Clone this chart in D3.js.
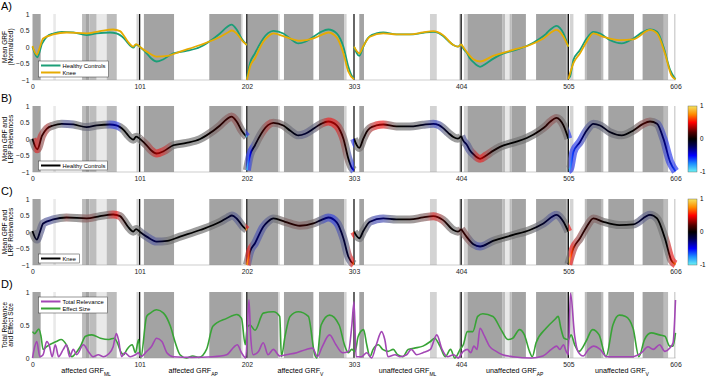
<!DOCTYPE html>
<html>
<head>
<meta charset="utf-8">
<script src="https://cdn.jsdelivr.net/npm/d3@7"></script>
<style>
body { margin: 0; background: #fff; }
svg { display: block; font-family: "Liberation Sans", Arial, sans-serif; }
</style>
</head>
<body>
<svg id="chart" width="706" height="377"></svg>
<script>
// tick values and section names
var xTicks = [0, 101, 202, 303, 404, 505, 606];
var meanTicks = [-1, -0.5, 0, 0.5, 1];
var relTicks = [0, 0.5, 1];
var sectionNames = ["affected GRF", "affected GRF", "affected GRF", "unaffected GRF", "unaffected GRF", "unaffected GRF"];
var sectionSubs = ["ML", "AP", "V", "ML", "AP", "V"];

// significance shading [start, end, shade level]
var shading = [
    [0, 7.7, 0], [19.6, 22, 3], [46.7, 49.8, 1], [49.8, 53.6, 0], [53.6, 60.5, 1], [60.5, 69.9, 3], [69.9, 79.4, 1],
    [98, 100.7, 2], [105, 133.4, 0], [166.6, 196.5, 0], [196.5, 198, 2],
    [202.5, 231.7, 0], [231.7, 233, 2], [237, 264.7, 0], [270, 293.6, 0], [293.6, 296, 2],
    [308, 312.4, 0], [374.6, 381, 2], [402, 404, 2], [406.6, 410, 2],
    [410, 443, 0], [443, 445.6, 1], [445.6, 449.6, 3], [449.6, 451.6, 1], [451.6, 465, 0],
    [474.6, 502.8, 0], [502.8, 505, 1], [506.6, 509.8, 2],
    [520.5, 522, 1], [522, 536.5, 0], [536.5, 538, 1], [542.7, 566.9, 0],
    [575, 595, 0], [595, 599, 1], [604.6, 606, 2]
];
var shadeColors = ["#a3a3a3", "#bcbcbc", "#d3d3d3", "#e9e9e9"];

// mean GRF of healthy controls, one array per section
var hcMean = [
    [[0, 0.01], [4.5, -0.31], [9, 0.1], [13.4, 0.31], [19.6, 0.41], [27.5, 0.46], [38.5, 0.44], [51, 0.36], [60.5, 0.41], [73, 0.44], [79, 0.41], [82.5, 0.36], [86, 0.27], [88.8, 0.16], [95, -0.02], [97.6, 0.07], [101, 0.01]],
    [[101, 0.01], [107.6, -0.19], [112, -0.35], [117, -0.44], [123.5, -0.37], [132.7, -0.19], [145, -0.12], [158, 0.0], [164, 0.11], [176.7, 0.41], [183, 0.6], [187.5, 0.68], [192.4, 0.53], [197, 0.26], [202, 0.06]],
    [[202, -0.95], [203.5, -0.7], [205, -0.49], [209.7, -0.19], [213, 0.02], [217.5, 0.26], [222, 0.42], [227, 0.49], [236.4, 0.41], [243, 0.25], [250.5, 0.11], [257, 0.16], [264.7, 0.31], [272, 0.46], [278.8, 0.53], [286.7, 0.41], [290, 0.25], [293, 0.01], [297.7, -0.6], [301, -0.88], [303, -0.95]],
    [[303, 0.01], [305.5, -0.18], [308, -0.27], [311.8, 0.01], [315, 0.22], [318, 0.33], [324, 0.41], [330.6, 0.44], [343, 0.38], [355.7, 0.38], [368, 0.43], [377.7, 0.46], [383, 0.42], [387, 0.33], [392, 0.18], [396.6, 0.06], [401, 0.01], [404, 0.09]],
    [[404, 0.09], [406, -0.05], [409, -0.16], [412, -0.33], [415.5, -0.46], [421.8, -0.6], [428, -0.49], [434, -0.36], [440.6, -0.24], [453, -0.11], [465.8, 0.03], [478.3, 0.26], [484, 0.4], [487.7, 0.52], [494, 0.64], [497, 0.58], [500.4, 0.41], [503, 0.2], [505, 0.01]],
    [[505, -0.95], [506.6, -0.9], [509.8, -0.39], [516, -0.09], [522.3, 0.26], [528.6, 0.46], [535, 0.41], [544, 0.21], [555.3, 0.11], [566.3, 0.26], [575, 0.45], [582, 0.53], [588.6, 0.46], [594.6, 0.01], [601, -0.7], [606, -0.98]]
];

// mean GRF of knee patients
var kneeMean = [
    [[0, 0.03], [4, -0.23], [7, 0.0], [10, 0.26], [19.6, 0.38], [32, 0.44], [51, 0.41], [63.6, 0.48], [76, 0.53], [82.5, 0.48], [86, 0.35], [90, 0.16], [95, 0.01], [97.6, 0.09], [101, 0.01]],
    [[101, 0.01], [107.6, -0.14], [117, -0.29], [127, -0.27], [139, -0.14], [158, 0.06], [177, 0.31], [184, 0.44], [188, 0.5], [192.4, 0.41], [198.5, 0.16], [202, 0.06]],
    [[202, -1], [203.5, -0.8], [205, -0.6], [209.7, -0.34], [217.5, 0.16], [222, 0.32], [227, 0.41], [238, 0.31], [252, 0.19], [264.7, 0.26], [272, 0.36], [278.8, 0.44], [286.7, 0.29], [293, -0.19], [297.7, -0.75], [303, -0.98]],
    [[303, 0.01], [305.5, -0.12], [308, -0.19], [311.8, 0.03], [318, 0.31], [330.6, 0.41], [343, 0.38], [355.7, 0.38], [368, 0.44], [377.7, 0.48], [387, 0.36], [396.6, 0.06], [401, 0.01], [404, 0.09]],
    [[404, 0.09], [409, -0.14], [415.5, -0.37], [421.8, -0.44], [434, -0.27], [453, -0.09], [468.8, 0.06], [481.5, 0.26], [494, 0.52], [497, 0.46], [500.4, 0.31], [505, 0.01]],
    [[505, -0.98], [509.8, -0.49], [516, -0.19], [522.3, 0.16], [528.6, 0.41], [538, 0.31], [553, 0.21], [566.3, 0.23], [582, 0.52], [588.6, 0.41], [596, -0.19], [602, -0.85], [606, -0.98]]
];

// LRP relevance along the curve [time, relevance]
var relHC = [
    [0, 0], [3, 0.3], [6, 0.25], [9, 0.12], [13, 0.22], [18, 0.05], [25, 0], [30, -0.15], [36, -0.15], [42, 0], [52, -0.08], [60, -0.05],
    [68, 0], [74, -0.28], [80, -0.3], [84, 0], [101, 0], [110, 0.15], [118, 0.32], [124, 0.25], [132, 0], [160, 0], [180, 0.1], [190, 0.15],
    [200, 0], [202, -0.9], [205, -0.5], [208, -0.1], [215, 0.05], [222, 0.22], [228, 0.1], [240, 0], [256, -0.12], [266, -0.08], [272, 0.1],
    [278, 0.35], [286, 0.3], [292, 0.15], [298, 0], [302, -0.4], [303, -0.5], [303.5, 0], [315, 0.05], [324, 0.3], [330, 0.32], [336, 0.12],
    [345, 0], [365, -0.05], [372, -0.12], [380, -0.25], [388, -0.1], [396, 0], [404, 0], [408, -0.18], [414, -0.12], [418, 0.25], [423, 0.35],
    [428, 0.2], [434, 0.05], [445, 0], [470, 0], [480, 0.05], [490, 0.15], [498, 0.05], [505, 0], [505.5, -0.9], [509, -0.6], [515, -0.3],
    [522, -0.15], [530, -0.1], [545, -0.05], [565, 0], [572, 0.1], [578, 0.15], [585, 0.05], [590, -0.15], [598, -0.3], [606, -0.6]
];
var relKnee = [
    [0, 0], [3, -0.08], [8, -0.12], [15, -0.18], [22, -0.12], [28, 0], [32, 0.12], [36, 0.05], [42, 0], [50, 0.12], [56, 0.12], [62, 0],
    [70, 0.05], [75, 0.25], [79, 0.32], [83, 0.1], [90, 0], [101, 0], [106, -0.12], [114, -0.18], [120, -0.12], [128, 0], [175, 0],
    [185, -0.1], [192, -0.15], [200, 0], [202, 0.85], [204, 0.6], [206, -0.15], [212, -0.22], [220, -0.15], [230, 0], [240, 0.08],
    [255, 0.1], [265, 0.05], [270, -0.1], [276, -0.25], [284, -0.3], [290, -0.15], [298, -0.1], [301, 0.3], [303, 0.7], [303.5, 0],
    [315, -0.05], [322, -0.22], [330, -0.22], [338, -0.1], [345, 0], [360, 0.05], [372, 0.12], [378, 0.28], [384, 0.2], [390, 0.05],
    [398, 0], [404, 0.1], [410, 0.12], [415, -0.1], [420, -0.22], [428, -0.12], [436, 0], [470, 0], [482, -0.1], [490, -0.18], [497, -0.12],
    [503, 0], [505, 0], [505.5, 1], [508, 0.6], [512, 0.2], [518, 0.1], [530, 0.1], [540, 0], [565, 0], [572, -0.12], [580, -0.12],
    [588, 0], [598, 0], [602, 0.3], [606, 0.7]
];

// total relevance and effect size
var totalRel = [
    [0, 0], [1.5, 0.13], [4, 0.25], [7, 0.02], [10, 0.05], [13.4, 0.25], [16, 0.18], [18.5, 0.02], [21.5, 0.2], [24.6, 0.02], [29, 0.13],
    [32, 0.2], [35, 0.02], [38.5, 0.13], [41.6, 0.05], [48, 0.2], [52.6, 0.1], [57, 0.02], [62, 0.05], [67, 0.02], [71.6, 0.06], [76, 0.17],
    [79, 0.37], [81, 0.28], [84, 0.02], [87, 0.08], [92, 0.02], [97, 0.05], [100, 0.08], [102, 0.02], [107.6, 0.1], [112, 0.17], [117, 0.3],
    [122, 0.25], [126.6, 0.08], [132.7, 0.02], [150, 0.01], [170, 0.02], [183, 0.05], [190, 0.17], [193, 0.2], [197, 0.08], [201, 0],
    [204, 0.88], [205.6, 0.33], [208, 0.05], [213, 0.1], [217.5, 0.23], [222, 0.05], [227, 0.13], [233, 0.03], [239, 0.05], [249, 0.08],
    [258, 0.13], [264, 0.15], [268.5, 0.02], [273, 0.17], [280, 0.35], [286, 0.2], [292, 0.08], [297.7, 0.1], [301, 0.5], [303, 0.85],
    [305, 0.02], [310, 0.02], [315, 0.08], [319.6, 0], [324, 0.2], [329, 0.4], [332, 0.28], [335, 0.02], [341.7, 0.05], [346, 0.02],
    [352.6, 0.05], [357, 0.13], [362, 0.05], [368, 0.08], [375, 0.13], [381, 0.35], [386, 0.13], [391, 0.02], [397, 0.05], [401, 0],
    [406, 0.1], [409.8, 0.13], [413, 0.08], [416, 0.18], [419, 0.13], [421.7, 0.45], [426, 0.33], [430.6, 0.18], [437, 0.1], [443, 0.05],
    [453, 0.02], [470, 0], [481, 0.03], [489, 0.13], [494, 0.18], [497, 0.13], [500.4, 0.2], [503, 0.1], [505, 0.05], [507, 0.98],
    [511, 0.33], [514, 0.1], [519, 0.03], [524, 0.13], [528.6, 0.18], [535, 0.13], [541, 0.02], [555, 0.02], [566, 0.02], [574, 0.08],
    [580, 0.17], [585, 0.13], [591, 0.2], [596, 0.1], [600.6, 0.15], [603.7, 0.23], [606, 0.88]
];
var effectSize = [
    [0, 0.4], [2, 0.37], [6, 0.44], [8, 0.33], [10, 0.13], [13, 0.17], [22.5, 0.25], [27, 0.28], [32, 0.2], [37, 0.02], [42, 0.1], [45, 0.17],
    [50, 0.33], [56, 0.35], [64, 0.3], [72, 0.28], [77, 0.3], [80, 0.23], [83, 0.1], [86, 0.05], [89, 0.13], [94, 0.2], [97, 0.08],
    [100, 0.28], [102, 0], [107.6, 0.63], [111, 0.68], [117, 0.73], [123.5, 0.68], [130, 0.48], [134.6, 0.23], [139, 0.05], [145, 0],
    [151, 0.03], [157, 0.01], [164, 0.13], [170, 0.48], [183, 0.6], [192.5, 0.66], [197, 0.6], [200.5, 0.2], [202.5, 0.47], [205, 0.5],
    [209.7, 0.42], [217.5, 0.68], [227, 0.7], [233, 0.63], [234.6, 0.02], [238, 0.33], [242.7, 0.63], [250.5, 0.7], [260, 0.63], [266, 0.05],
    [268, 0], [272, 0.5], [280, 0.65], [289, 0.5], [294, 0.2], [297.7, 0.08], [300.9, 0.13], [304, 0.1], [307, 0.33], [312, 0.43], [315, 0.2],
    [318, 0.02], [321, 0.13], [326, 0.2], [330, 0.13], [335, 0.1], [340, 0.13], [344, 0.05], [349, 0.02], [354, 0.13], [360, 0.15],
    [368, 0.18], [375, 0.25], [379, 0.3], [384, 0.18], [389, 0.02], [394, 0.13], [398, 0], [403, 0.13], [406, 0.2], [409.8, 0.4],
    [415, 0.4], [419.6, 0.63], [424.4, 0.67], [434, 0.63], [441.6, 0.43], [448, 0.28], [452.6, 0.3], [459, 0.43], [463.6, 0.35], [468.4, 0.1],
    [471, 0.02], [474.6, 0.23], [484, 0.45], [492, 0.58], [495.5, 0.63], [498, 0.45], [501, 0.3], [505, 0.28], [507.6, 0.35], [511, 0.2],
    [515, 0.1], [521.6, 0.25], [527.8, 0.43], [534, 0.35], [540.5, 0.02], [547, 0.5], [553, 0.65], [559, 0.63], [566, 0.45], [571.5, 0.02],
    [576.8, 0.28], [583, 0.38], [591, 0.35], [596, 0.33], [600.6, 0.18], [603.7, 0.18], [606, 0.38]
];

var hcColor = "#1b9e77", kneeColor = "#e6ab02", relColor = "#a347b5", esColor = "#38a336";

var svg = d3.select("#chart");
var defs = svg.append("defs");
var font = 6.8;
var panelH = 66;

var x = d3.scaleLinear().domain([0, 606]).range([32.5, 675.5]);

// relevance colormap (cyan - blue - black - red - yellow)
var cmap = d3.scaleLinear()
    .domain([-1, -0.75, -0.5, -0.2, 0, 0.2, 0.5, 0.75, 1])
    .range(["#6cf3f3", "#1e90ff", "#0000ff", "#000050", "#000000", "#500000", "#ff0000", "#ff8c00", "#f4e35f"]);

// band is grey, tinted red or blue only where relevance is high
function bandColor(r) {
    var t = Math.min(1, Math.pow(Math.abs(r) / 0.32, 1.6));
    return d3.interpolateRgb("#747474", r >= 0 ? "#f02020" : "#3040f0")(t);
}

function addGradient(id, keys, colorFn) {
    var grad = defs.append("linearGradient").attr("id", id)
        .attr("gradientUnits", "userSpaceOnUse")
        .attr("x1", x(0)).attr("x2", x(606)).attr("y1", 0).attr("y2", 0);
    grad.selectAll("stop").data(keys).enter().append("stop")
        .attr("offset", function (d) { return d[0] / 606; })
        .attr("stop-color", function (d) { return colorFn(d[1]); });
}
addGradient("lineHC", relHC, cmap);
addGradient("bandHC", relHC, bandColor);
addGradient("lineKnee", relKnee, cmap);
addGradient("bandKnee", relKnee, bandColor);

// colorbar gradient
var cbGrad = defs.append("linearGradient").attr("id", "cbar")
    .attr("x1", 0).attr("x2", 0).attr("y1", 1).attr("y2", 0);
cbGrad.selectAll("stop").data(cmap.domain()).enter().append("stop")
    .attr("offset", function (d) { return (d + 1) / 2; })
    .attr("stop-color", function (d) { return cmap(d); });

defs.append("filter").attr("id", "soft").append("feGaussianBlur").attr("stdDeviation", 0.7);

// draws shading, dividers and axes of one panel
function drawFrame(top, y, ticks, letter) {
    var g = svg.append("g");
    g.selectAll("rect.shade").data(shading).enter().append("rect")
        .attr("class", "shade")
        .attr("x", function (d) { return x(d[0]); })
        .attr("width", function (d) { return x(d[1]) - x(d[0]); })
        .attr("y", top).attr("height", panelH)
        .attr("fill", function (d) { return shadeColors[d[2]]; });

    g.selectAll("line.div").data(xTicks.slice(1, 6)).enter().append("line")
        .attr("class", "div")
        .attr("x1", function (d) { return x(d); }).attr("x2", function (d) { return x(d); })
        .attr("y1", top).attr("y2", top + panelH)
        .attr("stroke", "#000").attr("stroke-width", 1.2);

    g.append("line").attr("x1", x(0)).attr("x2", x(606))
        .attr("y1", top + panelH).attr("y2", top + panelH)
        .attr("stroke", "#999").attr("stroke-width", 0.5);

    var yAxis = g.append("g").attr("transform", "translate(" + x(0) + ",0)")
        .call(d3.axisLeft(y).tickValues(ticks).tickSize(0).tickPadding(3).tickFormat(d3.format("")));
    var xAxis = g.append("g").attr("transform", "translate(0," + (top + panelH) + ")")
        .call(d3.axisBottom(x).tickValues(xTicks).tickSize(0).tickPadding(4));
    [yAxis, xAxis].forEach(function (a) {
        a.select(".domain").remove();
        a.selectAll("text").attr("font-size", font).attr("fill", "#222")
            .attr("font-family", "Liberation Sans, Arial, sans-serif");
    });

    g.append("text").attr("x", 1).attr("y", top - 4).attr("font-size", 11).text(letter + ")");
    return g;
}

function yLabel(lines, top) {
    var t = svg.append("text").attr("font-size", 6.5).attr("text-anchor", "middle")
        .attr("transform", "translate(6.5," + (top + panelH / 2) + ") rotate(-90)");
    lines.forEach(function (l, i) {
        t.append("tspan").attr("x", 0).attr("dy", i === 0 ? 0 : 6.8).text(l);
    });
}

function legend(top, w, items) {
    var g = svg.append("g").attr("transform", "translate(38.5," + top + ")");
    var h = items.length * 7 + 2;
    g.append("rect").attr("width", w).attr("height", h)
        .attr("fill", "#fff").attr("stroke", "#333").attr("stroke-width", 0.5);
    items.forEach(function (it, i) {
        var cy = 4.5 + i * 7;
        g.append("line").attr("x1", 2.5).attr("x2", 22).attr("y1", cy).attr("y2", cy)
            .attr("stroke", it[1]).attr("stroke-width", 2);
        g.append("text").attr("x", 24).attr("y", cy + 2).attr("font-size", 5.8).text(it[0]);
    });
}

// A) mean curves
var topA = 14;
var yA = d3.scaleLinear().domain([-1, 1]).range([topA + panelH, topA]);
drawFrame(topA, yA, meanTicks, "A");
yLabel(["Mean GRF", "(Normalized)"], topA);
var lineA = d3.line().x(function (d) { return x(d[0]); }).y(function (d) { return yA(d[1]); }).curve(d3.curveMonotoneX);
[[hcMean, hcColor], [kneeMean, kneeColor]].forEach(function (s) {
    svg.append("g").selectAll("path").data(s[0]).enter().append("path")
        .attr("d", lineA).attr("fill", "none").attr("stroke", s[1]).attr("stroke-width", 1.8);
});
legend(61, 70, [["Healthy Controls", hcColor], ["Knee", kneeColor]]);

// B) and C) mean curves with relevance bands
function relPanel(top, data, name, letter, lw) {
    var y = d3.scaleLinear().domain([-1, 1]).range([top + panelH, top]);
    drawFrame(top, y, meanTicks, letter);
    yLabel(["Mean GRF and", "LRP Relevances"], top);
    var line = d3.line().x(function (d) { return x(d[0]); }).y(function (d) { return y(d[1]); }).curve(d3.curveMonotoneX);
    svg.append("g").attr("filter", "url(#soft)").attr("opacity", 0.7)
        .selectAll("path").data(data).enter().append("path")
        .attr("d", line).attr("fill", "none").attr("stroke", "url(#band" + name + ")")
        .attr("stroke-width", 8).attr("stroke-linecap", "butt");
    svg.append("g").selectAll("path").data(data).enter().append("path")
        .attr("d", line).attr("fill", "none").attr("stroke", "url(#line" + name + ")")
        .attr("stroke-width", 1.8);
    legend(top + panelH - 11, lw, [[name === "HC" ? "Healthy Controls" : "Knee", "#000"]]);

    // colorbar
    svg.append("rect").attr("x", 688).attr("y", top).attr("width", 9).attr("height", panelH)
        .attr("fill", "url(#cbar)").attr("stroke", "#555").attr("stroke-width", 0.4);
    var cb = d3.scaleLinear().domain([-1, 1]).range([top + panelH, top]);
    svg.append("g").selectAll("text").data([-1, 0, 1]).enter().append("text")
        .attr("x", 700).attr("y", function (d) { return cb(d) + 2.3; })
        .attr("font-size", 6.3).text(function (d) { return d; });
}
relPanel(106, hcMean, "HC", "B", 69);
relPanel(199, kneeMean, "Knee", "C", 41);

// D) total relevance and effect size
var topD = 292;
var yD = d3.scaleLinear().domain([0, 1]).range([topD + panelH, topD]);
drawFrame(topD, yD, relTicks, "D");
yLabel(["Total Relevance", "and Effect Size"], topD);
var lineD = d3.line().x(function (d) { return x(d[0]); }).y(function (d) { return yD(d[1]); }).curve(d3.curveMonotoneX);
svg.append("path").datum(effectSize).attr("d", lineD).attr("fill", "none")
    .attr("stroke", esColor).attr("stroke-width", 1.6);
svg.append("path").datum(totalRel).attr("d", lineD).attr("fill", "none")
    .attr("stroke", relColor).attr("stroke-width", 1.6);
legend(297, 69, [["Total Relevance", relColor], ["Effect Size", esColor]]);

// section names under panel D
var sec = svg.append("g").selectAll("text").data(sectionNames).enter().append("text")
    .attr("x", function (d, i) { return x(50.5 + 101 * i); })
    .attr("y", 373).attr("text-anchor", "middle").attr("font-size", 7.2);
sec.append("tspan").text(function (d) { return d; });
sec.append("tspan").attr("font-size", 5).attr("dy", 2.5)
    .text(function (d, i) { return sectionSubs[i]; });
</script>
</body>
</html>
